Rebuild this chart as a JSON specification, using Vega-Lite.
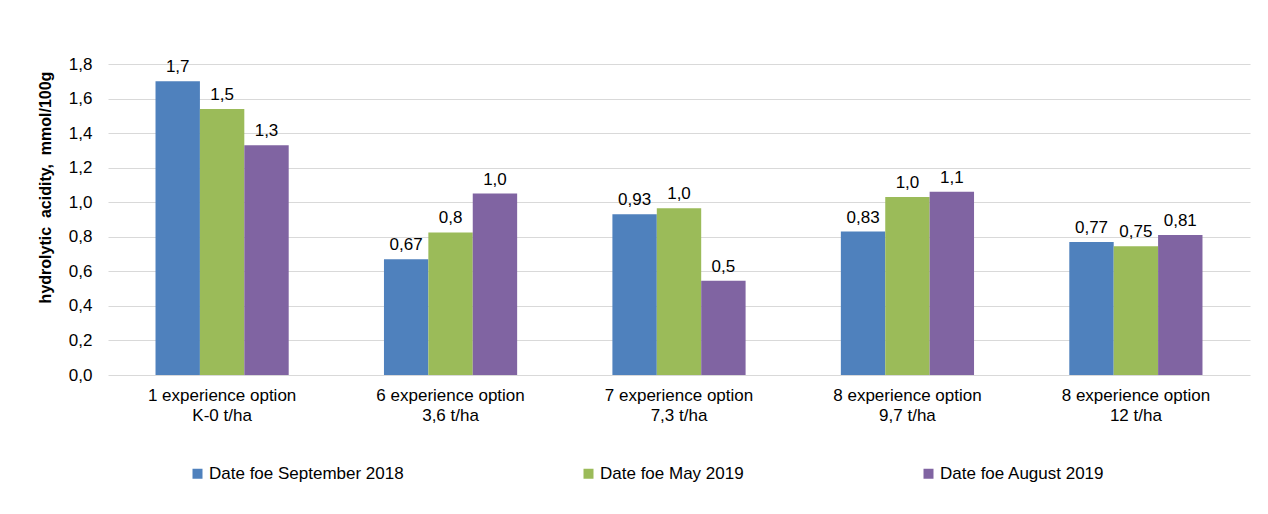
{
  "$schema": "https://vega.github.io/schema/vega-lite/v6.json",
  "width": 1142,
  "height": 311,
  "autosize": {"type": "none"},
  "padding": {"left": 108, "top": 64, "right": 18, "bottom": 139},
  "background": "white",
  "config": {
    "font": "Liberation Sans",
    "view": {"stroke": null}
  },
  "data": {
    "values": [
      {"option": "1 experience option|K-0 t/ha", "date": "Date foe September 2018", "value": 1.70, "label": "1,7"},
      {"option": "1 experience option|K-0 t/ha", "date": "Date foe May 2019", "value": 1.54, "label": "1,5"},
      {"option": "1 experience option|K-0 t/ha", "date": "Date foe August 2019", "value": 1.33, "label": "1,3"},
      {"option": "6 experience option|3,6 t/ha", "date": "Date foe September 2018", "value": 0.67, "label": "0,67"},
      {"option": "6 experience option|3,6 t/ha", "date": "Date foe May 2019", "value": 0.825, "label": "0,8"},
      {"option": "6 experience option|3,6 t/ha", "date": "Date foe August 2019", "value": 1.05, "label": "1,0"},
      {"option": "7 experience option|7,3 t/ha", "date": "Date foe September 2018", "value": 0.93, "label": "0,93"},
      {"option": "7 experience option|7,3 t/ha", "date": "Date foe May 2019", "value": 0.965, "label": "1,0"},
      {"option": "7 experience option|7,3 t/ha", "date": "Date foe August 2019", "value": 0.545, "label": "0,5"},
      {"option": "8 experience option|9,7 t/ha", "date": "Date foe September 2018", "value": 0.83, "label": "0,83"},
      {"option": "8 experience option|9,7 t/ha", "date": "Date foe May 2019", "value": 1.03, "label": "1,0"},
      {"option": "8 experience option|9,7 t/ha", "date": "Date foe August 2019", "value": 1.06, "label": "1,1"},
      {"option": "8 experience option|12 t/ha", "date": "Date foe September 2018", "value": 0.77, "label": "0,77"},
      {"option": "8 experience option|12 t/ha", "date": "Date foe May 2019", "value": 0.745, "label": "0,75"},
      {"option": "8 experience option|12 t/ha", "date": "Date foe August 2019", "value": 0.81, "label": "0,81"}
    ]
  },
  "encoding": {
    "x": {
      "field": "option",
      "type": "nominal",
      "sort": null,
      "scale": {"paddingInner": 0.417, "paddingOuter": 0.208},
      "axis": {
        "title": null,
        "labelAngle": 0,
        "labelExpr": "split(datum.label, '|')",
        "labelFontSize": 17,
        "labelColor": "#000000",
        "labelPadding": 12,
        "labelLineHeight": 20,
        "labelBaseline": "top",
        "ticks": false,
        "domain": false
      }
    },
    "xOffset": {
      "field": "date",
      "type": "nominal",
      "sort": ["Date foe September 2018", "Date foe May 2019", "Date foe August 2019"]
    },
    "y": {
      "field": "value",
      "type": "quantitative",
      "scale": {"domain": [0, 1.8], "nice": false},
      "axis": {
        "title": "hydrolytic\u00a0 acidity,\u00a0 mmol/100g",
        "titleFontSize": 16,
        "titleFontWeight": "bold",
        "titleColor": "#000000",
        "titleX": -63,
        "titleY": 123,
        "titleBaseline": "middle",
        "titleAngle": -90,
        "values": [0, 0.2, 0.4, 0.6, 0.8, 1.0, 1.2, 1.4, 1.6, 1.8],
        "labelExpr": "replace(format(datum.value, '.1f'), '.', ',')",
        "labelFontSize": 17,
        "labelColor": "#000000",
        "labelPadding": 16,
        "ticks": false,
        "domain": false,
        "grid": true,
        "gridColor": "#d9d9d9",
        "gridWidth": 1
      }
    }
  },
  "layer": [
    {
      "mark": {"type": "bar"},
      "encoding": {
        "color": {
          "field": "date",
          "type": "nominal",
          "sort": ["Date foe September 2018", "Date foe May 2019", "Date foe August 2019"],
          "scale": {"range": ["#4F81BD", "#9BBB59", "#8064A2"]},
          "legend": {
            "title": null,
            "orient": "none",
            "direction": "horizontal",
            "legendX": 81,
            "legendY": 401,
            "symbolType": "square",
            "symbolSize": 100,
            "symbolStrokeWidth": 0,
            "labelFontSize": 17,
            "labelColor": "#000000",
            "labelOffset": 3,
            "columnPadding": 176,
            "labelLimit": 400
          }
        }
      }
    },
    {
      "mark": {"type": "text", "baseline": "bottom", "dy": -5, "fontSize": 17, "color": "#000000"},
      "encoding": {
        "text": {"field": "label"}
      }
    }
  ]
}
